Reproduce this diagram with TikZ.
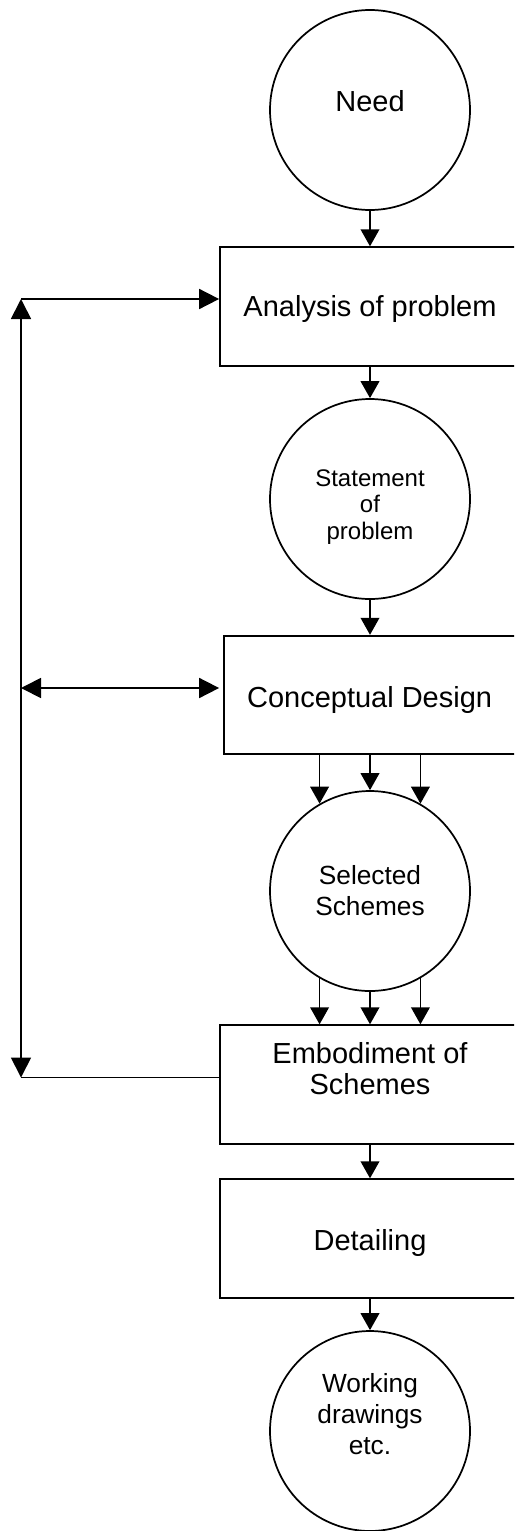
\documentclass[tikz,border=0pt]{standalone}
\usepackage{fontspec}
\setmainfont{Liberation Sans}
\usetikzlibrary{arrows.meta}
\begin{document}
\begin{tikzpicture}[x=0.75pt,y=-0.75pt,
  line width=1.3pt,
  stage/.style={circle,draw,minimum size=150pt,inner sep=0pt},
  stepbox/.style={rectangle,draw,minimum width=225pt,minimum height=89pt,inner sep=0pt},
  bigtxt/.style={font=\fontsize{21.75pt}{23.8pt}\selectfont,align=center,inner sep=0pt},
  medtxt/.style={font=\fontsize{19.7pt}{23.25pt}\selectfont,align=center,inner sep=0pt},
  smalltxt/.style={font=\fontsize{18pt}{19.9pt}\selectfont,align=center,inner sep=0pt},
  flow/.style={-{Triangle[length=12.75pt,width=14pt]}},
  fbone/.style={-{Triangle[length=15pt,width=15pt]}},
  fbtwo/.style={{Triangle[length=15pt,width=15pt]}-{Triangle[length=15pt,width=15pt]}},
]
\useasboundingbox (0,0) rectangle (514,1531);
\clip (0,0) rectangle (514,1531);

% main chain of stages
\node[stage, label={[bigtxt,yshift=6.5pt]center:Need}] (need) at (370,110) {};
\node[stepbox, label={[bigtxt,yshift=-2pt]center:Analysis of problem}] (analysis) at (370,306.5) {};
\node[stage, label={[smalltxt,yshift=-6pt]center:{Statement\\of\\problem}}] (stmt) at (370,499) {};
\node[stepbox, label={[bigtxt,xshift=-3.3pt,yshift=-3.4pt]center:Conceptual Design}] (concept) at (374,695) {};
\node[stage, label={[medtxt]center:{Selected\\Schemes}}] (sel) at (370,891) {};
\node[stepbox, label={[bigtxt,yshift=11.9pt]center:{Embodiment of\\Schemes}}] (emb) at (370,1084.5) {};
\node[stepbox, label={[bigtxt,yshift=-3pt]center:Detailing}] (det) at (370,1238.5) {};
\node[stage, label={[medtxt,yshift=13pt]center:{Working\\drawings\\etc.}}] (work) at (370,1431) {};

% downward flow
\draw[flow] (need.south) -- (analysis.north);
\draw[flow] (analysis.south) -- (stmt.north);
\draw[flow] (stmt.south) -- (stmt.south |- concept.north);
\draw[flow] (sel.120 |- concept.south) -- (sel.120);
\draw[flow] (sel.north |- concept.south) -- (sel.north);
\draw[flow] (sel.60 |- concept.south) -- (sel.60);
\draw[flow] (sel.240) -- (sel.240 |- emb.north);
\draw[flow] (sel.south) -- (sel.south |- emb.north);
\draw[flow] (sel.300) -- (sel.300 |- emb.north);
\draw[flow] (emb.south) -- (det.north);
\draw[flow] (det.south) -- (work.north);

% feedback loop on the left
\coordinate (fbtop) at (21,299);
\coordinate (fbmid) at (21,688);
\coordinate (fbbot) at (21,1077.5);
\draw[fbtwo] (fbtop) -- (fbbot);
\draw[fbone] (fbtop) -- (fbtop -| analysis.west);
\draw[fbtwo, shorten >=3pt] (fbmid) -- (fbmid -| concept.west);
\draw (emb.west |- fbbot) -- (fbbot);
\end{tikzpicture}
\end{document}
